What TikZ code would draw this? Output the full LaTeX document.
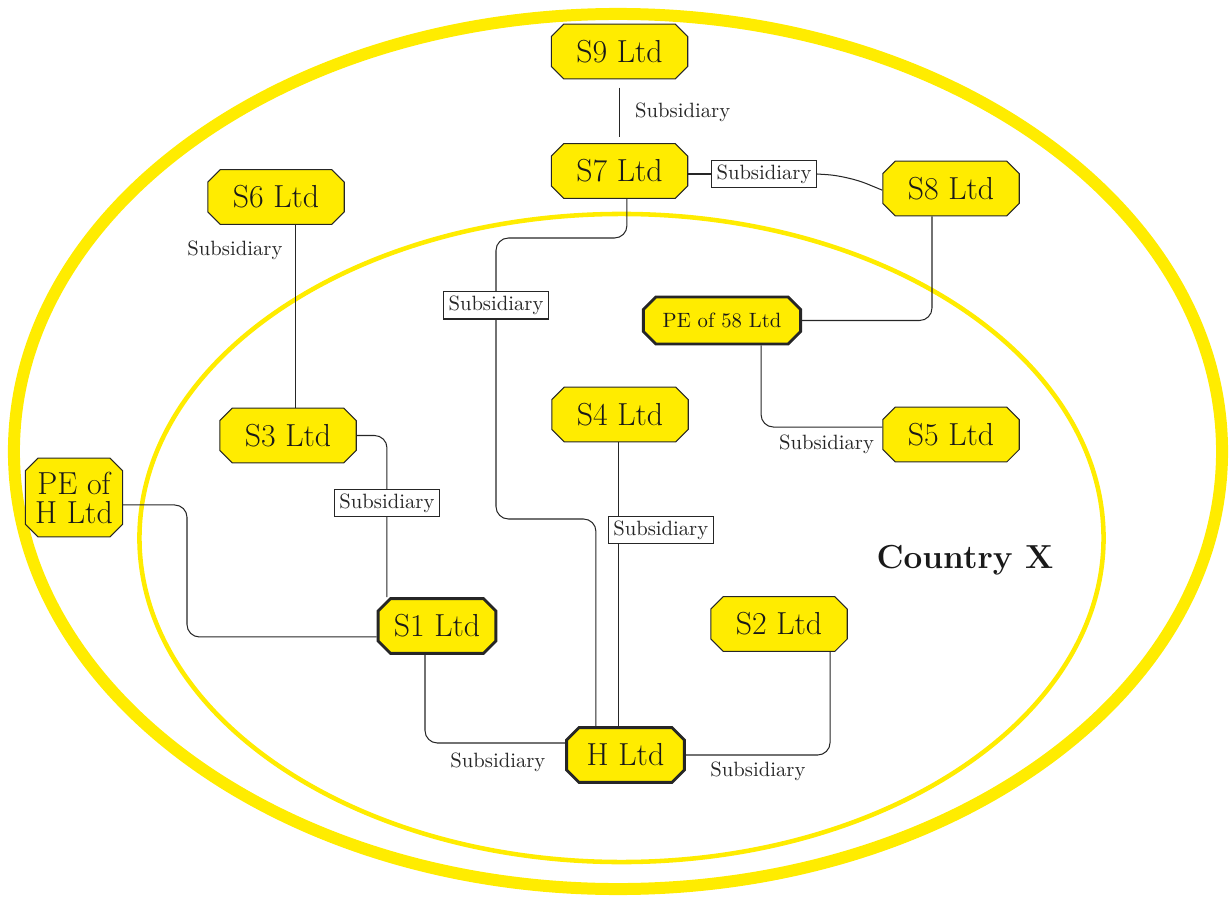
\documentclass[tikz,border=0pt]{standalone}
\usepackage{tikz}
\usetikzlibrary{shapes.misc}
\usepackage[dvipsnames]{xcolor}
\definecolor{cyellow}{RGB}{255,236,0}

\begin{document}
\begin{tikzpicture}[x=0.017cm, y=-0.017cm,
                company/.style = {chamfered rectangle, chamfered rectangle xsep=3pt,
                                  chamfered rectangle ysep=3pt,
                                  draw=black!85, line width=0.5pt, fill=cyellow,
                                  text=black!90, font=\fontsize{15.4}{18}\selectfont,
                                  minimum width=66pt, minimum height=26.5pt},
                parent/.style = {company, line width=1.4pt, minimum width=57pt},
                link/.style = {draw=black!85, line width=0.5pt, rounded corners=6pt},
                tag/.style = {draw=black!85, fill=white, text=black!85, sharp corners,
                              inner xsep=2.5pt, inner ysep=2pt},
                note/.style = {text=black!85}]
  \useasboundingbox (0,0) rectangle (1229,899);
  % the two countries
  \draw[cyellow, line width=5.8pt] (618,451.5) ellipse [x radius=10.268cm, y radius=7.4375cm];
  \draw[cyellow, line width=2.2pt] (621.5,538) ellipse [x radius=8.194cm, y radius=5.508cm];
  \node[font=\fontsize{16.1}{19}\selectfont\bfseries, text=black!90] (cx) at (965,560) {Country X};
  % companies
  \node[company] (S9) at (619.5,51.5) {S9 Ltd};
  \node[company] (S7) at (619.5,171) {S7 Ltd};
  \node[company] (S8) at (951,188.5) {S8 Ltd};
  \node[company] (S6) at (276,197) {S6 Ltd};
  \node[parent, font=\normalsize, minimum width=76pt, minimum height=22.7pt] (PE58) at (722,320.5) {PE of 58 Ltd};
  \node[company] (S4) at (620,414.5) {S4 Ltd};
  \node[company] (S5) at (951,434.5) {S5 Ltd};
  \node[company] (S3) at (288,435.5) {S3 Ltd};
  \node[company, inner xsep=1pt, minimum width=47pt, minimum height=38pt, align=center] (PEH) at (74,497.5) {PE of\\[-4pt] H Ltd};
  \node[parent] (S1) at (437,626) {S1 Ltd};
  \node[company] (S2) at (779,624) {S2 Ltd};
  \node[parent] (H) at (625.5,755) {H Ltd};
  % links
  \draw[link] ([yshift=-4pt]S9.south) -- node[note, right=4pt] (t97) {Subsidiary} ([yshift=3pt]S7.north);
  \node[tag] (t78) at (764,174) {Subsidiary};
  \draw[link] (S7.east |- t78) -- (t78.west);
  \draw[link, rounded corners=10pt] (t78.east) -- (848,176) -- ([yshift=-0.8pt]S8.west);
  \draw[link] ([xshift=3.6pt]S7.south) |- (496,238)
              -- node[tag, pos=0.24] (t7h) {Subsidiary} (496,519)
              -| ([xshift=-14.3pt]H.north);
  \draw[link] ([xshift=-0.5pt]S4.south) -- node[tag, anchor=west, xshift=-5.5pt, pos=0.31] (t4h) {Subsidiary} ([xshift=-0.5pt]S4.south |- H.north);
  \draw[link] ([xshift=9.2pt]S6.south) -- node[note, left=2.5pt, pos=0.14] (t63) {Subsidiary} ([xshift=9.2pt]S6.south |- S3.north);
  \draw[link] (S3.east) -| node[tag, pos=0.71] (t31) {Subsidiary} ([xshift=-24.2pt]S1.north);
  \draw[link] ([yshift=-3.6pt]PEH.east) -| (187,570) |- ([yshift=-5.3pt]S1.west);
  \draw[link] ([xshift=-5.8pt]S1.south) |- node[note, below=1pt, pos=0.76] (t1h) {Subsidiary} ([yshift=5.8pt]H.west);
  \draw[link] (H.east) -| node[note, below=0pt, pos=0.25] (t2h) {Subsidiary} ([xshift=24.7pt]S2.south);
  \draw[link] ([xshift=-9.2pt]S8.south) |- (PE58.east);
  \draw[link] ([xshift=18.9pt]PE58.south) |- node[note, below=0pt, pos=0.77] (t5) {Subsidiary} ([yshift=3.6pt]S5.west);
\end{tikzpicture}
\end{document}
